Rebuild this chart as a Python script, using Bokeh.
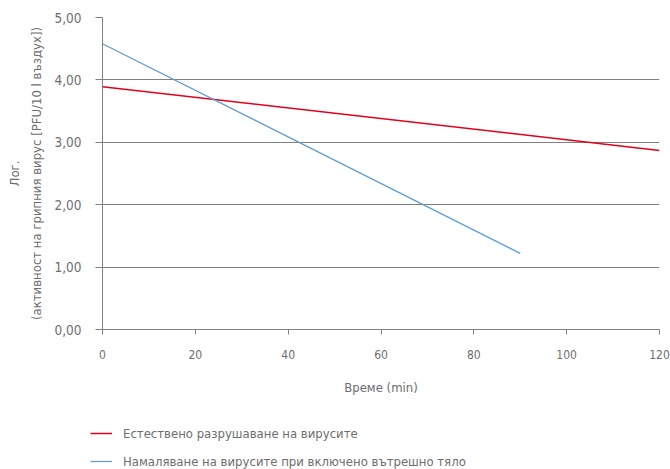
from bokeh.plotting import figure
from bokeh.models import Legend, LegendItem, FixedTicker, Range1d, LinearAxis
from bokeh.layouts import column
from bokeh.embed import file_html
from bokeh.resources import INLINE

time_red = [0, 120]
red_vals = [3.89, 2.87]
time_blue = [0, 90]
blue_vals = [4.58, 1.22]
y_ticks = [0, 1, 2, 3, 4, 5]
y_tick_labels = ["0,00", "1,00", "2,00", "3,00", "4,00", "5,00"]
x_ticks = [0, 20, 40, 60, 80, 100, 120]
red_label = "Естествено разрушаване на вирусите"
blue_label = "Намаляване на вирусите при включено вътрешно тяло"
x_title = "Време (min)"
y_title_1 = "Лог."
y_title_2 = "(активност на грипния вирус [PFU/10 l въздух])"

FONT = "DejaVu Sans Condensed"
GRAY = "#6e6e6e"
RED = "#e3001b"
BLUE = "#5b9bd5"

p = figure(width=670, height=400, output_backend="svg", toolbar_location=None,
           x_range=Range1d(0, 120), y_range=Range1d(0, 5),
           min_border_left=102, min_border_right=11, min_border_top=17,
           min_border_bottom=71)
p.frame_align = False
p.outline_line_color = None
p.xgrid.grid_line_color = None
p.ygrid.grid_line_color = "#808080"
p.ygrid.grid_line_width = 1

r1 = p.line(time_red, red_vals, line_color=RED, line_width=1.5)
r2 = p.line(time_blue, blue_vals, line_color=BLUE, line_width=1.2)

p.yaxis.ticker = FixedTicker(ticks=y_ticks)
p.yaxis.major_label_overrides = {t: l for t, l in zip(y_ticks, y_tick_labels)}
p.xaxis.ticker = FixedTicker(ticks=x_ticks)
for ax in (p.xaxis[0], p.yaxis[0]):
    ax.axis_line_color = "#808080"
    ax.major_tick_line_color = "#808080"
    ax.minor_tick_line_color = None
    ax.major_tick_in = 0
    ax.major_label_text_font = FONT
    ax.major_label_text_color = GRAY
    ax.axis_label_text_font = FONT
    ax.axis_label_text_color = GRAY
    ax.axis_label_text_font_size = "13px"
    ax.axis_label_text_font_style = "normal"
p.xaxis.major_label_text_font_size = "12px"
p.yaxis.major_label_text_font_size = "13.5px"
p.yaxis.major_tick_out = 7
p.xaxis.major_tick_out = 5
p.xaxis.major_label_standoff = 15
p.yaxis.major_label_standoff = 14
p.xaxis.axis_label = x_title
p.xaxis.axis_label_standoff = 18
p.yaxis.axis_label = y_title_2
p.yaxis.axis_label_standoff = 7

extra = LinearAxis(axis_label=y_title_1)
extra.axis_line_color = None
extra.major_tick_line_color = None
extra.minor_tick_line_color = None
extra.major_label_text_font_size = "0px"
extra.major_label_text_color = None
extra.axis_label_text_font = FONT
extra.axis_label_text_color = GRAY
extra.axis_label_text_font_size = "13px"
extra.axis_label_text_font_style = "normal"
extra.axis_label_standoff = 5
extra.major_tick_out = 0
extra.major_label_standoff = 0
extra.ticker = FixedTicker(ticks=[])
p.add_layout(extra, "left")

# legend-only strip below the chart (series drawn out of view, only legend shows)
q = figure(width=670, height=69, output_backend="svg", toolbar_location=None,
           x_range=Range1d(0, 1), y_range=Range1d(100, 101),
           min_border=0)
q.frame_align = False
q.axis.visible = False
q.grid.visible = False
q.outline_line_color = None
l1 = q.line(time_red, red_vals, line_color=RED, line_width=1.5)
l2 = q.line(time_blue, blue_vals, line_color=BLUE, line_width=1.2)

legend = Legend(items=[LegendItem(label=red_label, renderers=[l1]),
                       LegendItem(label=blue_label, renderers=[l2])],
                orientation="vertical")
legend.label_text_font = FONT
legend.label_text_color = GRAY
legend.label_text_font_size = "13px"
legend.border_line_color = None
legend.background_fill_alpha = 0
legend.glyph_width = 22
legend.label_standoff = 11
legend.spacing = 12
legend.padding = 0
legend.margin = 0
legend.label_height = 16
legend.glyph_height = 16
legend.location = (90, 0)
q.add_layout(legend, "center")

layout = column(p, q, spacing=0)
open("out.html", "w").write(file_html(layout, INLINE))
